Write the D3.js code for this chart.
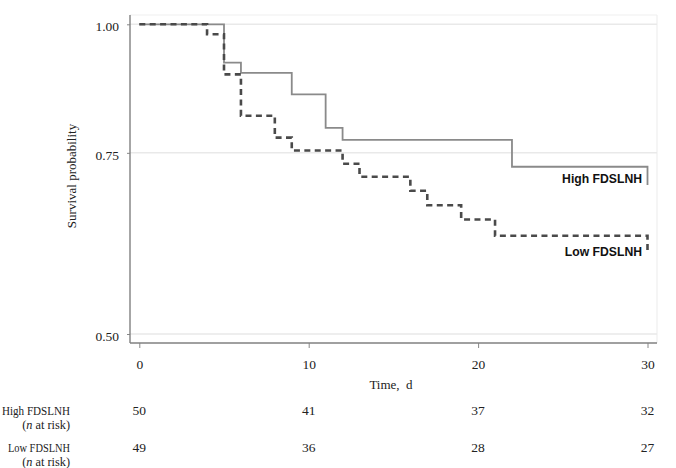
<!DOCTYPE html>
<html>
<head>
<meta charset="utf-8">
<script src="https://cdn.jsdelivr.net/npm/d3@7"></script>
<style>
  html, body { margin: 0; padding: 0; background: #fff; }
  svg { display: block; }
</style>
</head>
<body>
<svg id="chart" width="676" height="468"></svg>
<script>
// ---- data ----
const timeTicks = [0, 10, 20, 30];
const yTicks = [0.50, 0.75, 1.00];
const highTimes = [0, 5, 6, 9, 11, 12, 22, 30];
const highSurv  = [1.000, 0.918, 0.897, 0.855, 0.793, 0.772, 0.727, 0.698];
const lowTimes  = [0, 4, 5, 6, 8, 9, 12, 13, 16, 17, 19, 21, 30];
const lowSurv   = [1.000, 0.978, 0.894, 0.815, 0.776, 0.754, 0.732, 0.711, 0.689, 0.667, 0.646, 0.623, 0.598];
const groupNames = ["High FDSLNH", "Low FDSLNH"];
const riskHigh = [50, 41, 37, 32];
const riskLow  = [49, 36, 28, 27];

// ---- layout ----
const frame = { left: 130, right: 657, top: 15, bottom: 343 };
const svg = d3.select("#chart");
const serif = "'Liberation Serif', 'Times New Roman', serif";
const sans = "'Liberation Sans', Arial, sans-serif";

const x = d3.scaleLinear().domain([0, 30]).range([139.3, 647.5]);
const y = d3.scaleLog().domain([0.5, 1]).range([334, 24.3]);

// frame (light top/right)
svg.append("line").attr("x1", frame.left).attr("x2", frame.right)
  .attr("y1", frame.top).attr("y2", frame.top)
  .attr("stroke", "#efefef").attr("stroke-width", 1.2);
svg.append("line").attr("x1", frame.right).attr("x2", frame.right)
  .attr("y1", frame.top).attr("y2", frame.bottom)
  .attr("stroke", "#efefef").attr("stroke-width", 1.2);

// gridlines
svg.append("g").selectAll("line").data(yTicks).join("line")
  .attr("x1", frame.left).attr("x2", frame.right)
  .attr("y1", d => y(d)).attr("y2", d => y(d))
  .attr("stroke", "#e9e9e9").attr("stroke-width", 1.5);

// y axis
const yAxis = svg.append("g").attr("transform", `translate(${frame.left},0)`)
  .call(d3.axisLeft(y).tickValues(yTicks).tickFormat(d3.format(".2f")).tickSize(3).tickPadding(8));
yAxis.select(".domain").remove();
yAxis.selectAll(".tick line").attr("stroke", "#888").attr("stroke-width", 1);
yAxis.selectAll(".tick text").attr("font-family", serif).attr("font-size", 13.5)
  .attr("fill", "#222").attr("dy", "0.48em");

// x axis
const xAxis = svg.append("g").attr("transform", `translate(0,${frame.bottom})`)
  .call(d3.axisBottom(x).tickValues(timeTicks).tickSize(5).tickPadding(11));
xAxis.select(".domain").remove();
xAxis.selectAll(".tick line").attr("stroke", "#888").attr("stroke-width", 1);
xAxis.selectAll(".tick text").attr("font-family", serif).attr("font-size", 13.5).attr("fill", "#222");

// axis lines
svg.append("line").attr("x1", frame.left).attr("x2", frame.left)
  .attr("y1", frame.top).attr("y2", frame.bottom)
  .attr("stroke", "#808080").attr("stroke-width", 1.4);
svg.append("line").attr("x1", frame.left).attr("x2", frame.right)
  .attr("y1", frame.bottom).attr("y2", frame.bottom)
  .attr("stroke", "#808080").attr("stroke-width", 1.4);

// curves
const line = d3.line().x(d => x(d[0])).y(d => y(d[1])).curve(d3.curveStepAfter);
const highPts = highTimes.map((t, i) => [t, highSurv[i]]);
const lowPts = lowTimes.map((t, i) => [t, lowSurv[i]]);

svg.append("path").datum(highPts).attr("d", line)
  .attr("fill", "none").attr("stroke", "#8a8a8a").attr("stroke-width", 1.8);
svg.append("path").datum(lowPts).attr("d", line)
  .attr("fill", "none").attr("stroke", "#4a4a4a").attr("stroke-width", 2.6)
  .attr("stroke-dasharray", "6,4.4");

// curve labels
svg.append("text").attr("x", 642).attr("y", 182.5).attr("text-anchor", "end")
  .attr("font-family", sans).attr("font-weight", "bold").attr("font-size", 12.2)
  .attr("fill", "#111").text(groupNames[0]);
svg.append("text").attr("x", 642).attr("y", 256.3).attr("text-anchor", "end")
  .attr("font-family", sans).attr("font-weight", "bold").attr("font-size", 12.2)
  .attr("fill", "#111").text(groupNames[1]);

// axis titles
svg.append("text").attr("transform", "translate(76,176) rotate(-90)")
  .attr("text-anchor", "middle").attr("font-family", serif).attr("font-size", 13)
  .attr("fill", "#222").text("Survival probability");
svg.append("text").attr("x", 391).attr("y", 388.5).attr("text-anchor", "middle")
  .attr("font-family", serif).attr("font-size", 13).attr("fill", "#222")
  .style("white-space", "pre").text("Time,  d");

// risk table
const rows = [
  { name: groupNames[0], vals: riskHigh, base: 415 },
  { name: groupNames[1], vals: riskLow, base: 452 }
];
rows.forEach(r => {
  svg.append("text").attr("x", 70).attr("y", r.base).attr("text-anchor", "end")
    .attr("font-family", serif).attr("font-size", 12.3).attr("fill", "#222")
    .attr("textLength", r.name === groupNames[0] ? 68 : 62).attr("lengthAdjust", "spacingAndGlyphs")
    .text(r.name);
  const t2 = svg.append("text").attr("x", 70).attr("y", r.base + 14.2).attr("text-anchor", "end")
    .attr("font-family", serif).attr("font-size", 12.3).attr("fill", "#222");
  t2.append("tspan").text("(");
  t2.append("tspan").attr("font-style", "italic").text("n");
  t2.append("tspan").text(" at risk)");
  svg.append("g").selectAll("text").data(r.vals).join("text")
    .attr("x", (d, i) => x(timeTicks[i])).attr("y", r.base)
    .attr("text-anchor", "middle").attr("font-family", serif).attr("font-size", 13.5)
    .attr("fill", "#222").text(d => d);
});
</script>
</body>
</html>
